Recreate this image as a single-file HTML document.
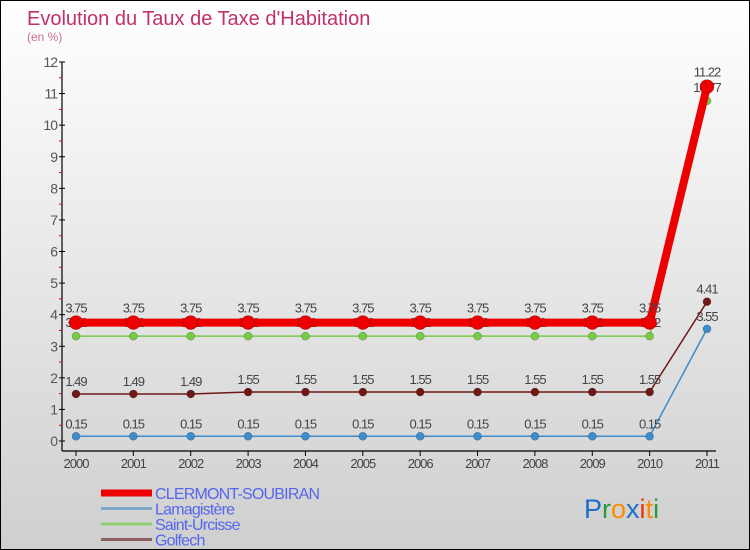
<!DOCTYPE html>
<html><head><meta charset="utf-8"><style>
body{margin:0}
#wrap{width:750px;height:550px;position:relative;box-sizing:border-box;border:1px solid #000;background:linear-gradient(#ffffff,#cfcfcf);overflow:hidden;font-family:"DejaVu Sans","Liberation Sans",sans-serif}
svg{position:absolute;left:0;top:0}
</style></head><body>
<div id="wrap">
<svg id="c" width="750" height="550">
<text x="26" y="24" font-size="20" fill="#c0306a" font-family="Liberation Sans, sans-serif">Evolution du Taux de Taxe d'Habitation</text>
<text x="26" y="40" font-size="12" fill="#c87090" font-family="Liberation Sans, sans-serif">(en %)</text>
</svg>
</div>
<script>
const years=[2000,2001,2002,2003,2004,2005,2006,2007,2008,2009,2010,2011];
const clermont=[3.75,3.75,3.75,3.75,3.75,3.75,3.75,3.75,3.75,3.75,3.75,11.22];
const lamagistere=[0.15,0.15,0.15,0.15,0.15,0.15,0.15,0.15,0.15,0.15,0.15,3.55];
const saintUrcisse=[3.32,3.32,3.32,3.32,3.32,3.32,3.32,3.32,3.32,3.32,3.32,10.77];
const golfech=[1.49,1.49,1.49,1.55,1.55,1.55,1.55,1.55,1.55,1.55,1.55,4.41];
const yTicks=[0,1,2,3,4,5,6,7,8,9,10,11,12];
const seriesNames=["CLERMONT-SOUBIRAN","Lamagistère","Saint-Urcisse","Golfech"];

const svg=document.getElementById('c');
const NS='http://www.w3.org/2000/svg';
const FONT='Liberation Sans, sans-serif';
function X(i){return 75+i*(706-75)/(years.length-1);}
function Y(v){return 440-v*(440-61)/12;}
function mk(t,a,p){const e=document.createElementNS(NS,t);for(const k in a)e.setAttribute(k,a[k]);(p||svg).appendChild(e);return e;}

let ax=mk('line',{x1:61,y1:Y(12),x2:61,y2:450,stroke:'#000','stroke-width':1.2});


let xa=mk('line',{x1:61,y1:450,x2:715,y2:450,stroke:'#000','stroke-width':1.2});


yTicks.forEach(v=>{
  mk('line',{x1:58,y1:Y(v),x2:64,y2:Y(v),stroke:'#000'});
  if(v<12){mk('line',{x1:58,y1:Y(v+0.5),x2:61,y2:Y(v+0.5),stroke:'#e00'});}
  const t=mk('text',{x:56,y:Y(v)+5,'font-size':14,fill:'#555','text-anchor':'end','font-family':FONT,'letter-spacing':'-1'});
  t.textContent=v;
  
  
});
years.forEach((y,i)=>{
  mk('line',{x1:X(i),y1:450,x2:X(i),y2:455,stroke:'#000'});
  const t=mk('text',{x:X(i),y:467,'font-size':13,fill:'#444','text-anchor':'middle','font-family':FONT,'letter-spacing':'-1'});
  t.textContent=y;
  
  
});

function series(data,color,w,r,name,dy){
  const g=mk('g',{});
  
  
  mk('polyline',{points:data.map((v,i)=>X(i)+','+Y(v)).join(' '),fill:'none',stroke:color,'stroke-width':w},g);
  data.forEach((v,i)=>{
    const c=mk('circle',{cx:X(i),cy:Y(v),r:r,fill:color,stroke:'rgba(0,0,0,0.3)','stroke-width':0.6},g);
    
    
    const t=mk('text',{x:X(i),y:Y(v)-dy,'font-size':13,fill:'#444','text-anchor':'middle','font-family':FONT,'letter-spacing':'-1'},g);
    t.textContent=v.toFixed(2);
    
    
  });
}
series(lamagistere,'#3d8ccc',1.5,4,'lamagistere-series',8);
series(golfech,'#701818',1.5,4,'golfech-series',8);
series(saintUrcisse,'#77cc44',1.5,4,'saint-urcisse-series',9);
series(clermont,'#ee0000',8,7,'clermont-soubiran-series',10);

const lc=['#ee0000','#7fa8c8','#8fd070','#8a6060'];const lw=[7,3,3,3];
seriesNames.forEach((n,i)=>{
  const y=492+i*15.5;
  const l=mk('line',{x1:100,y1:y,x2:151,y2:y,stroke:lc[i],'stroke-width':lw[i]});
  
  
  const t=mk('text',{x:154,y:y+6,'font-size':16,fill:'#5566ee','font-family':FONT,'letter-spacing':'-0.8'});
  t.textContent=n;
  
  
});
const logo=mk('text',{x:583,y:517,'font-size':27,'font-family':FONT});


[['P','#1a6fcc'],['r','#2a9a3a'],['o','#ff8a00'],['x','#1a6fcc'],['i','#ee3300'],['t','#ff8a00'],['i','#2a9a3a']].forEach(([c,col])=>{
  const s=mk('tspan',{fill:col},logo);s.textContent=c;
});
</script>
</body></html>
